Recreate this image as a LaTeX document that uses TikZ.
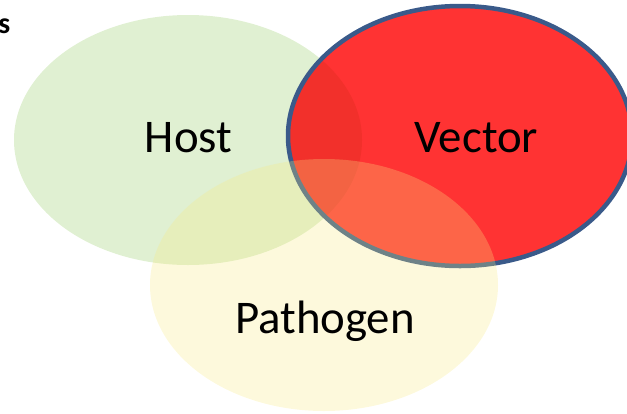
\documentclass[tikz,border=0pt]{standalone}
\usepackage{fontspec}
\setmainfont{Carlito}
\definecolor{hostgreen}{RGB}{224,240,210}
\definecolor{vecred}{RGB}{255,51,51}
\definecolor{vecdark}{RGB}{242,48,43}
\definecolor{vecblue}{RGB}{58,90,138}
\definecolor{pathyel}{RGB}{248,234,130}
\begin{document}
\begin{tikzpicture}[x=1bp,y=-1bp,
  lbl/.style={font=\fontsize{47}{50}\selectfont, text=black, inner sep=0pt, anchor=base}]
\useasboundingbox (0,0) rectangle (627,413);
\clip (0,0) rectangle (627,413);
% host
\fill[hostgreen] (188,140) ellipse [x radius=174, y radius=125];
% vector
\fill[vecred] (460,136) ellipse [x radius=172, y radius=130];
\begin{scope}
  \clip (188,140) ellipse [x radius=174, y radius=125];
  \fill[vecdark] (460,136) ellipse [x radius=172, y radius=130];
\end{scope}
\draw[vecblue, line width=4.5bp] (460,136) ellipse [x radius=172, y radius=130];
% pathogen
\fill[pathyel, opacity=0.28] (324,285) ellipse [x radius=174, y radius=126];
% labels
\node[lbl] (host) at (188.5,152) {Host};
\node[lbl] (vector) at (476.5,152) {Vector};
\node[lbl] (pathogen) at (325,333) {Pathogen};
\node[font=\bfseries\fontsize{30}{32}\selectfont, anchor=base east, inner sep=0pt] (s) at (10.5,33) {s};
\end{tikzpicture}
\end{document}
